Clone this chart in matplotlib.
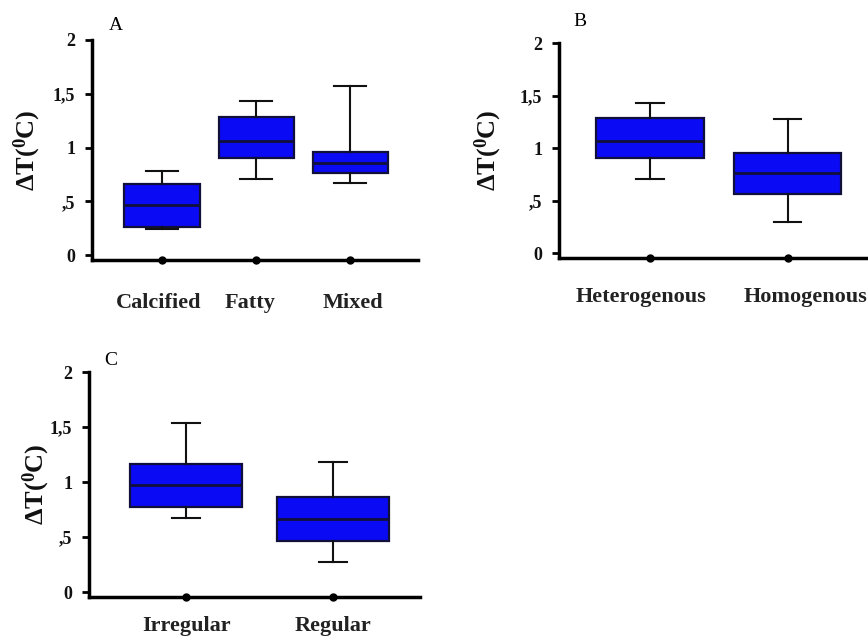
import matplotlib
matplotlib.use("Agg")
import matplotlib.pyplot as plt
from matplotlib.transforms import ScaledTranslation

plt.rcParams['font.family'] = ['Liberation Serif', 'DejaVu Serif']
plt.rcParams['mathtext.fontset'] = 'custom'
plt.rcParams['mathtext.rm'] = 'Liberation Serif'
plt.rcParams['mathtext.bf'] = 'Liberation Serif:bold'
plt.rcParams['mathtext.it'] = 'Liberation Serif:italic'

# Panel A - composition
a_cats = ["Calcified", "Fatty", "Mixed"]
a_lo = [0.24, 0.71, 0.67]
a_q1 = [0.26, 0.90, 0.76]
a_med = [0.465, 1.06, 0.855]
a_q3 = [0.66, 1.28, 0.96]
a_hi = [0.78, 1.43, 1.57]

# Panel B - texture
b_cats = ["Heterogenous", "Homogenous"]
b_lo = [0.71, 0.295]
b_q1 = [0.905, 0.56]
b_med = [1.067, 0.76]
b_q3 = [1.286, 0.95]
b_hi = [1.43, 1.28]

# Panel C - margins
c_cats = ["Irregular", "Regular"]
c_lo = [0.67, 0.27]
c_q1 = [0.77, 0.46]
c_med = [0.97, 0.66]
c_q3 = [1.167, 0.86]
c_hi = [1.54, 1.185]

y_ticks = [0, 0.5, 1, 1.5, 2]
y_ticklabels = ["0", ",5", "1", "1,5", "2"]

W, H = 868, 642
fig = plt.figure(figsize=(W / 100, H / 100), dpi=100)


def px_axes(left, right, bottom, top):
    return fig.add_axes([left / W, 1 - bottom / H, (right - left) / W, (bottom - top) / H])


def panel(ax, cats, lo, q1, med, q3, hi, letter, xlim, width, capw, pad, ylab_dx, letter_xy, shifts):
    stats = []
    for i in range(len(cats)):
        stats.append(dict(whislo=lo[i], q1=q1[i], med=med[i], q3=q3[i], whishi=hi[i], fliers=[]))
    pos = list(range(len(cats)))
    ax.bxp(stats, positions=pos, widths=width, capwidths=capw, patch_artist=True,
           showfliers=False,
           boxprops=dict(facecolor='#0a0af5', edgecolor='#10103a', linewidth=1.6),
           medianprops=dict(color='#10103a', linewidth=2),
           whiskerprops=dict(color='#111111', linewidth=1.5),
           capprops=dict(color='#111111', linewidth=1.5))
    ymin = -0.045
    ax.set_ylim(ymin, 2.0)
    ax.set_xlim(*xlim)
    ax.plot(pos, [ymin] * len(pos), 'o', color='black', markersize=5, clip_on=False, zorder=5)
    for s in ['top', 'right']:
        ax.spines[s].set_visible(False)
    for s in ['left', 'bottom']:
        ax.spines[s].set_linewidth(2.5)
    ax.set_yticks(y_ticks)
    ax.set_yticklabels(y_ticklabels, fontsize=13, fontweight='bold', color='#111111')
    ax.tick_params(axis='y', direction='out', length=5, width=2, pad=7)
    ax.set_xticks(pos)
    ax.set_xticklabels(cats, fontsize=16, fontweight='bold', color='#222222')
    ax.tick_params(axis='x', length=0, pad=pad)
    for lab, dx in zip(ax.get_xticklabels(), shifts):
        lab.set_transform(lab.get_transform() + ScaledTranslation(dx / 100, 0, fig.dpi_scale_trans))
    ax.text(ylab_dx, 0.5, r'$\mathbf{\Delta T(^{0}C)}$', rotation=90, ha='center', va='center',
            fontsize=19, color='#111111', transform=ax.transAxes)
    ax.text(letter_xy[0], letter_xy[1], letter, fontsize=14, ha='center', va='center',
            transform=ax.transAxes)


axA = px_axes(92, 418, 260, 40)
panel(axA, a_cats, a_lo, a_q1, a_med, a_q3, a_hi, "A", (-0.745, 2.72), 0.8, 0.34, 24,
      (27 - 92) / 326, ((116 - 92) / 326, (260 - 26) / 220), [-3, -6, 3])

axB = px_axes(559, 880, 258, 43)
panel(axB, b_cats, b_lo, b_q1, b_med, b_q3, b_hi, "B", (-0.66, 1.67), 0.78, 0.2, 21,
      (488 - 559) / 321, ((580 - 559) / 321, (258 - 21) / 215), [-9, 18])

axC = px_axes(89, 420, 597, 372)
panel(axC, c_cats, c_lo, c_q1, c_med, c_q3, c_hi, "C", (-0.66, 1.59), 0.76, 0.19, 14,
      (36 - 89) / 331, ((111 - 89) / 331, (597 - 360) / 225), [0, 0])

fig.savefig("out.png", dpi=100)
